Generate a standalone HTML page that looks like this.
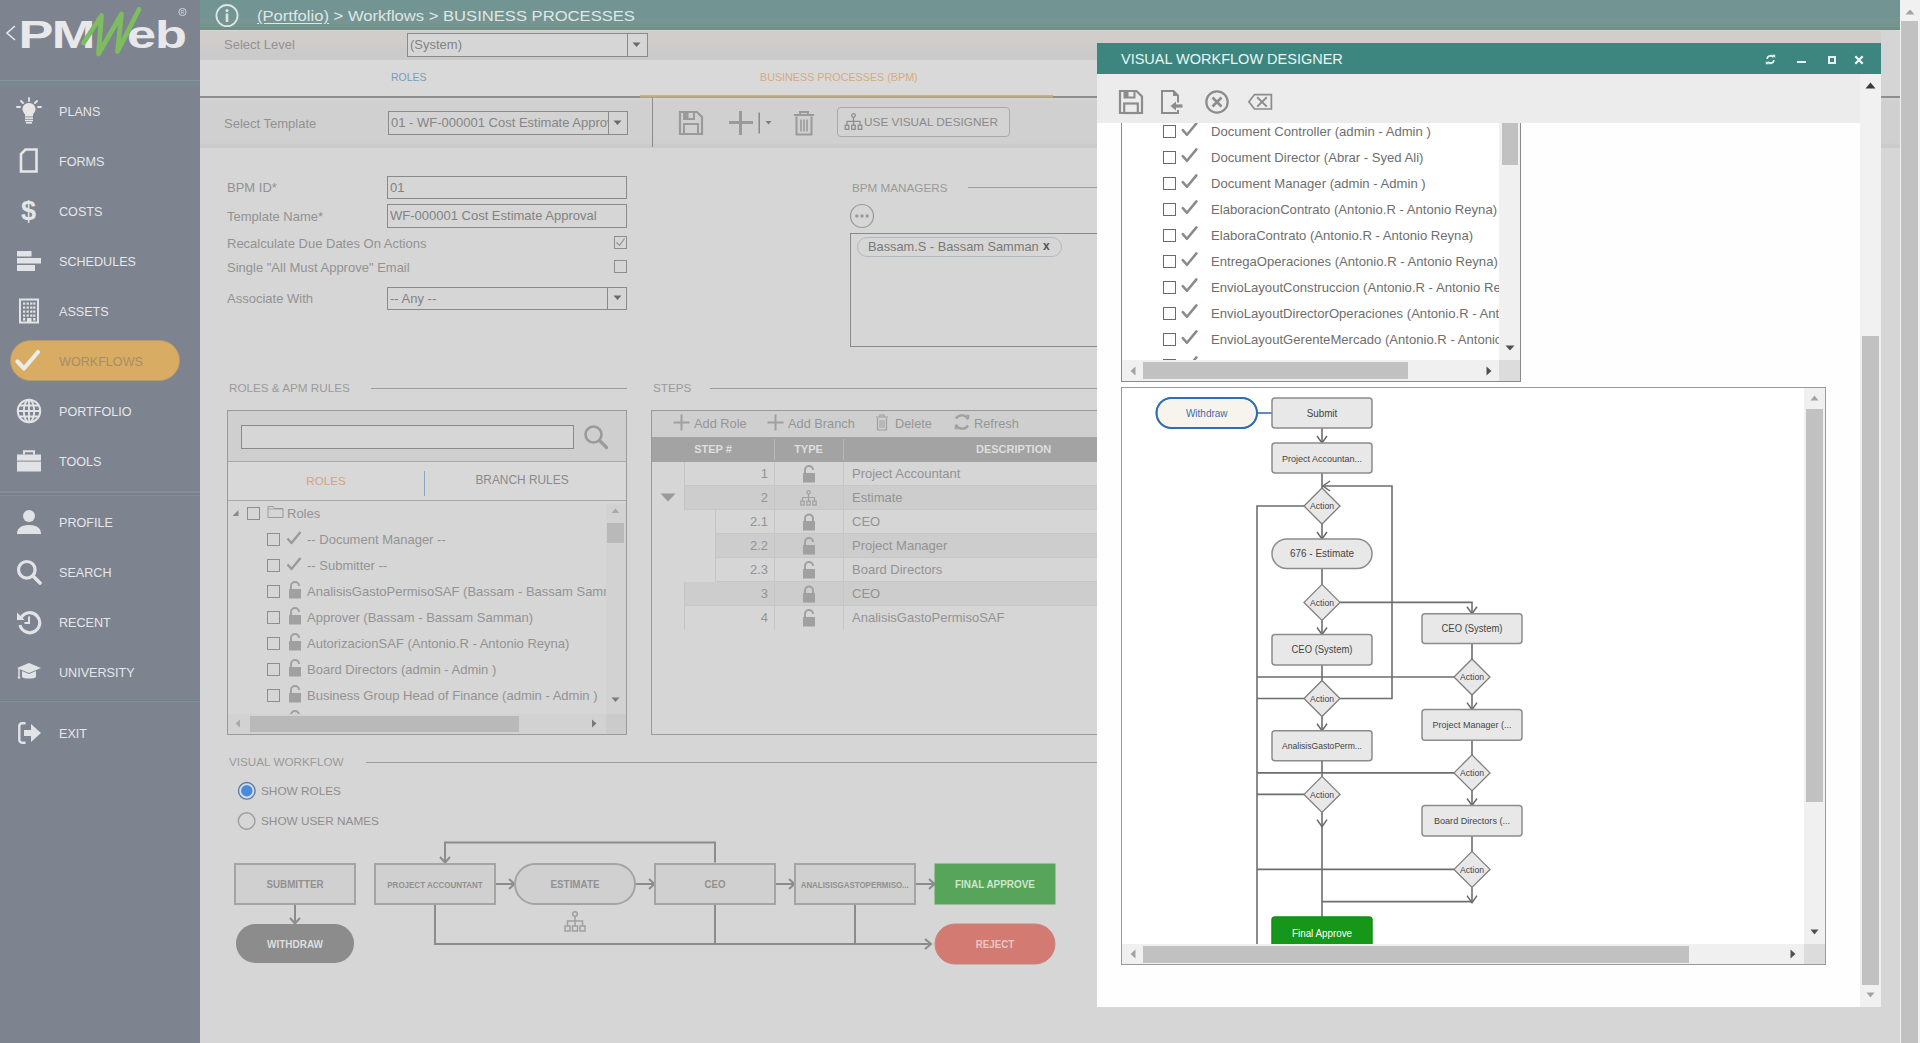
<!DOCTYPE html>
<html><head><meta charset="utf-8">
<style>
*{box-sizing:border-box;margin:0;padding:0}
html,body{width:1920px;height:1043px;overflow:hidden;background:#d6d6d6;font-family:"Liberation Sans",sans-serif;}
.a{position:absolute}
.sb{left:0;top:0;width:200px;height:1043px;background:#7d838f}
.nav{position:absolute;left:59px;font-size:12.6px;color:#e6e7ea;letter-spacing:0;line-height:14px}
.ico{position:absolute}
.hdr{left:200px;top:0;width:1700px;height:29px;background:linear-gradient(#729593 0,#729593 18px,#799491 20px,#789391 24px,#6b968c 25px,#72998f 26.5px,#6f9087 27.5px,#7b8d88 29px)}
.lbl{position:absolute;font-size:13px;color:#929292;line-height:15px;white-space:nowrap}
.inp{position:absolute;border:1px solid #8a8a8a;background:#d6d6d6;font-size:13px;color:#828282;line-height:21px;padding-left:2px;white-space:nowrap;overflow:hidden}
.sec{position:absolute;font-size:11.7px;color:#9a9a9a;line-height:14px;white-space:nowrap}
.hl{position:absolute;height:1px;background:#9c9c9c}
</style></head><body>
<!-- SIDEBAR -->
<div class="a sb">
 <!-- logo -->
 <svg class="ico" style="left:0;top:0" width="200" height="80" viewBox="0 0 200 80">
  <path d="M15 26 L7 33 L15 40" fill="none" stroke="#e8e8ea" stroke-width="1.6"/>
  <text x="0" y="0" transform="translate(18.5 47.5) scale(1.36 1)" font-family="Liberation Sans" font-weight="bold" font-size="38.5" fill="#e8e8ea" letter-spacing="-1.2">PM</text>
  <text x="0" y="0" transform="translate(127 47.5) scale(1.36 1)" font-family="Liberation Sans" font-weight="bold" font-size="38.5" fill="#e8e8ea" letter-spacing="-0.8">eb</text>
  <path d="M83.5 43 L101.5 15.5 L98.5 54 L121.5 14 L117.5 51.5 L139 9.5" fill="none" stroke="#7dbd5f" stroke-width="4.8" stroke-linecap="round" stroke-linejoin="round"/>
  <circle cx="182.5" cy="12" r="3.6" fill="none" stroke="#dcdde0" stroke-width="0.9"/>
  <text x="180.6" y="13.8" font-family="Liberation Sans" font-size="5" fill="#dcdde0">R</text>
 </svg>
 <div class="a" style="left:0;top:80px;width:200px;height:7px;background:linear-gradient(#87939b 0,#87939b 1px,#78868e 1px,#7a8890 4px,#7d8991 7px)"></div>
 <!-- icons -->
 <svg class="ico" style="left:16px;top:97px" width="26" height="27" viewBox="0 0 26 27">
  <g stroke="#e6e6e6" stroke-width="1.8" stroke-linecap="round"><path d="M13 1v3M5 4l2 2M21 4l-2 2M1 10h3M22 10h3"/></g>
  <path d="M13 6c-4 0-6.5 3-6.5 6 0 2.5 1.5 3.8 2.5 5.5v2h8v-2c1-1.7 2.5-3 2.5-5.5 0-3-2.5-6-6.5-6z" fill="#e6e6e6"/>
  <rect x="9" y="20.3" width="8" height="1.6" fill="#e6e6e6"/><rect x="9" y="22.7" width="8" height="1.6" fill="#e6e6e6"/><rect x="10" y="25" width="6" height="1.6" fill="#e6e6e6"/>
 </svg>
 <div class="nav" style="top:104.5px">PLANS</div>
 <svg class="ico" style="left:19px;top:148px" width="20" height="26" viewBox="0 0 20 26">
  <path d="M6.5 1.5H17.5V23.5H2V6z" fill="none" stroke="#e6e6e6" stroke-width="2.6" stroke-linejoin="miter"/>
 </svg>
 <div class="nav" style="top:154.5px">FORMS</div>
 <div class="a" style="left:21px;top:196px;font-size:27px;font-weight:bold;color:#e6e6e6;line-height:30px">$</div>
 <div class="nav" style="top:204.5px">COSTS</div>
 <svg class="ico" style="left:16px;top:250px" width="26" height="23" viewBox="0 0 26 23">
  <rect x="1" y="1" width="14.5" height="5.5" fill="#e2e3e6"/><rect x="1" y="8" width="24" height="5.5" fill="#e2e3e6"/><rect x="1" y="15" width="18" height="6" fill="#e2e3e6"/>
 </svg>
 <div class="nav" style="top:254.5px">SCHEDULES</div>
 <svg class="ico" style="left:18px;top:298px" width="22" height="26" viewBox="0 0 22 26">
  <rect x="2" y="1.5" width="18" height="23" fill="none" stroke="#e2e3e6" stroke-width="2"/>
  <g fill="#e2e3e6"><rect x="5" y="4.5" width="2.2" height="2.2"/><rect x="8.6" y="4.5" width="2.2" height="2.2"/><rect x="12.2" y="4.5" width="2.2" height="2.2"/><rect x="15.2" y="4.5" width="2.2" height="2.2"/>
  <rect x="5" y="8.5" width="2.2" height="2.2"/><rect x="8.6" y="8.5" width="2.2" height="2.2"/><rect x="12.2" y="8.5" width="2.2" height="2.2"/><rect x="15.2" y="8.5" width="2.2" height="2.2"/>
  <rect x="5" y="12.5" width="2.2" height="2.2"/><rect x="8.6" y="12.5" width="2.2" height="2.2"/><rect x="12.2" y="12.5" width="2.2" height="2.2"/><rect x="15.2" y="12.5" width="2.2" height="2.2"/>
  <rect x="5" y="16.5" width="2.2" height="2.2"/><rect x="8.6" y="16.5" width="2.2" height="2.2"/><rect x="12.2" y="16.5" width="2.2" height="2.2"/><rect x="15.2" y="16.5" width="2.2" height="2.2"/>
  <rect x="5" y="20" width="2.2" height="2.6"/><rect x="9" y="20" width="4.5" height="4"/><rect x="15.2" y="20" width="2.2" height="2.6"/></g>
 </svg>
 <div class="nav" style="top:304.5px">ASSETS</div>
 <!-- active workflows pill -->
 <div class="a" style="left:10px;top:340px;width:170px;height:41px;border-radius:21px;background:#d9ac63;border:1px solid #b89a6a"></div>
 <svg class="ico" style="left:15px;top:349px" width="26" height="24" viewBox="0 0 26 24">
  <path d="M2.5 12.5 L9 19.5 L23 3" fill="none" stroke="#e8ecea" stroke-width="4.2" stroke-linecap="round" stroke-linejoin="round"/>
 </svg>
 <div class="nav" style="top:354.5px;color:#a68d66">WORKFLOWS</div>
 <svg class="ico" style="left:16px;top:398px" width="26" height="26" viewBox="0 0 26 26">
  <g fill="none" stroke="#e2e3e6" stroke-width="1.9"><circle cx="13" cy="13" r="11.3"/><ellipse cx="13" cy="13" rx="5.2" ry="11.3"/><path d="M13 1.7v22.6M1.7 13h22.6M3.5 7.5h19M3.5 18.5h19"/></g>
 </svg>
 <div class="nav" style="top:404.5px">PORTFOLIO</div>
 <svg class="ico" style="left:16px;top:450px" width="26" height="23" viewBox="0 0 26 23">
  <path d="M8 4.5V1.3h10v3.2" fill="none" stroke="#e2e3e6" stroke-width="2"/>
  <rect x="1" y="4.5" width="24" height="17" fill="#e2e3e6"/><rect x="1" y="10.5" width="24" height="1.3" fill="#9aa0a8"/>
 </svg>
 <div class="nav" style="top:454.5px">TOOLS</div>
 <div class="a" style="left:0;top:491px;width:200px;height:5px;background:linear-gradient(#878d98 0,#878d98 2px,#7a808b 2px,#7a808b 3.5px,#868c97 3.5px)"></div>
 <svg class="ico" style="left:16px;top:508px" width="26" height="28" viewBox="0 0 26 28">
  <circle cx="13" cy="8" r="6" fill="#e2e3e6"/><path d="M1 26c0-5 3-9 12-9s12 4 12 9z" fill="#e2e3e6"/>
 </svg>
 <div class="nav" style="top:515.5px">PROFILE</div>
 <svg class="ico" style="left:16px;top:559px" width="26" height="26" viewBox="0 0 26 26">
  <circle cx="10.8" cy="10.8" r="8.3" fill="none" stroke="#e2e3e6" stroke-width="3.2"/><path d="M17 17l7 7" stroke="#e2e3e6" stroke-width="3.6" stroke-linecap="round"/>
 </svg>
 <div class="nav" style="top:565.5px">SEARCH</div>
 <svg class="ico" style="left:16px;top:609px" width="26" height="26" viewBox="0 0 26 26">
  <path d="M5.2 8.5A10 10 0 1 1 4 16" fill="none" stroke="#e2e3e6" stroke-width="3.2"/><path d="M1 3.5v7.5h7.5z" fill="#e2e3e6"/><path d="M13 7.5v6.5h-4.5" fill="none" stroke="#e2e3e6" stroke-width="2"/>
 </svg>
 <div class="nav" style="top:615.5px">RECENT</div>
 <svg class="ico" style="left:16px;top:662px" width="26" height="22" viewBox="0 0 26 22">
  <path d="M13 1L25 6 13 11 1 6z" fill="#e2e3e6"/><path d="M6 9v6c2 2 12 2 14 0V9l-7 3z" fill="#e2e3e6"/><path d="M3 6.5v8" stroke="#e2e3e6" stroke-width="1.5"/><circle cx="3" cy="15.5" r="1.3" fill="#e2e3e6"/>
 </svg>
 <div class="nav" style="top:665.5px">UNIVERSITY</div>
 <div class="a" style="left:0;top:697px;width:200px;height:6px;background:linear-gradient(#7b8790 0,#7b8790 3px,#74808a 3px,#74808a 4px,#818f98 4px,#818f98 5px,#7b8790 5px)"></div>
 <svg class="ico" style="left:16px;top:720px" width="26" height="26" viewBox="0 0 26 26">
  <path d="M9.5 3.3H6a2.7 2.7 0 0 0-2.7 2.7v14a2.7 2.7 0 0 0 2.7 2.7h3.5" fill="none" stroke="#e2e3e6" stroke-width="2.4"/><path d="M8 10h7V4l10 9-10 9v-6H8z" fill="#e2e3e6"/>
 </svg>
 <div class="nav" style="top:726.5px">EXIT</div>
</div>
<!-- HEADER -->
<div class="a hdr">
 <svg class="ico" style="left:14px;top:3px" width="26" height="26" viewBox="0 0 26 26">
  <circle cx="13" cy="12.6" r="10.6" fill="none" stroke="#dce6e4" stroke-width="1.8"/>
  <circle cx="13" cy="7.6" r="1.6" fill="#dce6e4"/><rect x="11.7" y="10.5" width="2.6" height="8.5" fill="#dce6e4"/>
 </svg>
 <div class="a" style="left:57px;top:7px;font-size:15.2px;color:#dfe7e5;white-space:nowrap;line-height:18px;transform:scaleX(1.093);transform-origin:0 0"><span style="text-decoration:underline;text-underline-offset:2px">(Portfolio)</span> &gt; Workflows &gt; BUSINESS PROCESSES</div>
</div>
<!-- Select level row -->
<div class="a" style="left:200px;top:29px;width:1700px;height:31px;background:linear-gradient(#7b8b87 0,#7b8b87 1px,#d3d6d6 1px,#d3d6d6 2px,#d1cdca 2px,#d0ccc9 17px,#cbcbcb 21px,#cacaca 31px)"></div>
<div class="lbl" style="left:224px;top:37px">Select Level</div>
<div class="inp" style="left:407px;top:33px;width:241px;height:24px;line-height:22px;background:#d6d6d6">(System)</div>
<div class="a" style="left:627px;top:33px;width:1px;height:24px;background:#8a8a8a"></div>
<svg class="ico" style="left:632px;top:42px" width="9" height="6"><path d="M0.5 0.5h8l-4 4.5z" fill="#6a6a6a"/></svg>
<!-- tabs row -->
<div class="a" style="left:200px;top:60px;width:1700px;height:36px;background:#d9d9d9"></div>
<div class="a" style="left:391px;top:71px;font-size:10.5px;color:#7b9bc0;line-height:12px">ROLES</div>
<div class="a" style="left:760px;top:71px;font-size:10.75px;color:#d7a980;line-height:12px;white-space:nowrap">BUSINESS PROCESSES (BPM)</div>
<div class="a" style="left:200px;top:96px;width:1700px;height:2px;background:#8e8e8e"></div>
<div class="a" style="left:640px;top:94px;width:413px;height:4px;background:linear-gradient(#e0d7c6 0,#e0d7c6 1px,#bfb293 1.5px,#b8aa88 3px,#a6987a 4px)"></div>
<!-- template toolbar row -->
<div class="a" style="left:200px;top:98px;width:1700px;height:50px;background:linear-gradient(#d4d4d4 0,#d0d0d0 4px,#d0d0d0 45px,#cacaca 47px,#cbcbcb 50px)"></div>
<div class="lbl" style="left:224px;top:116px">Select Template</div>
<div class="inp" style="left:388px;top:111px;width:240px;height:24px;line-height:22px;background:#d3d3d3;color:#858585">01 - WF-000001 Cost Estimate Approval</div>
<div class="a" style="left:608px;top:112px;width:19px;height:22px;background:#d3d3d3;border-left:1px solid #8a8a8a"></div>
<svg class="ico" style="left:613px;top:120px" width="9" height="6"><path d="M0.5 0.5h8l-4 4.5z" fill="#6a6a6a"/></svg>
<div class="a" style="left:652px;top:98px;width:1px;height:49px;background:#8e8e8e"></div>
<!-- save icon -->
<svg class="ico" style="left:678px;top:110px" width="26" height="26" viewBox="0 0 26 26">
 <path d="M2 2h17l5 5v17H2z" fill="none" stroke="#9a9a9a" stroke-width="2.2"/>
 <rect x="6" y="2" width="10" height="7" fill="none" stroke="#9a9a9a" stroke-width="2"/><rect x="7" y="3" width="3.5" height="5" fill="#9a9a9a"/>
 <rect x="6" y="14" width="14" height="10" fill="none" stroke="#9a9a9a" stroke-width="2"/>
</svg>
<!-- plus icon -->
<svg class="ico" style="left:728px;top:110px" width="50" height="26" viewBox="0 0 50 26">
 <path d="M12.5 1v24M1 12.5h24" stroke="#9a9a9a" stroke-width="3"/>
 <path d="M31.2 2.5v21" stroke="#767676" stroke-width="1.2"/>
 <path d="M37.5 11h6l-3 3.5z" fill="#7e7e7e"/>
</svg>
<!-- trash icon -->
<svg class="ico" style="left:792px;top:110px" width="24" height="26" viewBox="0 0 24 26">
 <path d="M2 5h20M8 5V2h8v3" fill="none" stroke="#9a9a9a" stroke-width="2"/>
 <path d="M4.5 6.5v18h15v-18" fill="none" stroke="#9a9a9a" stroke-width="2"/>
 <path d="M9 9.5v12M12 9.5v12M15 9.5v12" stroke="#9a9a9a" stroke-width="1.6"/>
</svg>
<!-- USE VISUAL DESIGNER button -->
<div class="a" style="left:837px;top:107px;width:173px;height:30px;border:1px solid #a9a9a9;border-radius:4px;background:#d3d3d3"></div>
<svg class="ico" style="left:844px;top:113px" width="19" height="18" viewBox="0 0 19 18">
 <g fill="none" stroke="#8e8e8e" stroke-width="1.3"><circle cx="9.5" cy="2.5" r="1.8"/><path d="M9.5 4.3v4M3 12V8.3h13V12M9.5 8.3V12"/><rect x="1.2" y="12.3" width="3.6" height="4"/><rect x="7.7" y="12.3" width="3.6" height="4"/><rect x="14.2" y="12.3" width="3.6" height="4"/></g>
</svg>
<div class="a" style="left:864px;top:115px;font-size:11.8px;color:#8a8a8a;line-height:14px;white-space:nowrap">USE VISUAL DESIGNER</div>

<!-- FORM FIELDS -->
<div class="lbl" style="left:227px;top:180px">BPM ID*</div>
<div class="inp" style="left:387px;top:176px;width:240px;height:23px">01</div>
<div class="lbl" style="left:227px;top:209px">Template Name*</div>
<div class="inp" style="left:387px;top:204px;width:240px;height:24px">WF-000001 Cost Estimate Approval</div>
<div class="lbl" style="left:227px;top:236px">Recalculate Due Dates On Actions</div>
<div class="a" style="left:614px;top:236px;width:13px;height:13px;border:1px solid #8e8e8e"></div>
<svg class="ico" style="left:615px;top:237px" width="11" height="11" viewBox="0 0 11 11"><path d="M1.5 5.5l3 3 5-7" fill="none" stroke="#8e8e8e" stroke-width="1.1"/></svg>
<div class="lbl" style="left:227px;top:260px">Single "All Must Approve" Email</div>
<div class="a" style="left:614px;top:260px;width:13px;height:13px;border:1px solid #8e8e8e"></div>
<div class="lbl" style="left:227px;top:291px">Associate With</div>
<div class="inp" style="left:387px;top:287px;width:240px;height:23px">-- Any --</div>
<div class="a" style="left:607px;top:288px;width:1px;height:21px;background:#8a8a8a"></div>
<svg class="ico" style="left:613px;top:295px" width="9" height="6"><path d="M0.5 0.5h8l-4 4.5z" fill="#6a6a6a"/></svg>
<!-- BPM MANAGERS -->
<div class="sec" style="left:852px;top:181px">BPM MANAGERS</div>
<div class="hl" style="left:968px;top:187px;width:130px"></div>
<svg class="ico" style="left:849px;top:203px" width="26" height="26" viewBox="0 0 26 26"><circle cx="13" cy="13" r="11.5" fill="none" stroke="#9a9a9a" stroke-width="1.2"/><circle cx="7.8" cy="13" r="1.7" fill="#9a9a9a"/><circle cx="13" cy="13" r="1.7" fill="#9a9a9a"/><circle cx="18.2" cy="13" r="1.7" fill="#9a9a9a"/></svg>
<div class="a" style="left:850px;top:233px;width:260px;height:114px;border:1px solid #8a8a8a"></div>
<div class="a" style="left:857px;top:237px;width:205px;height:20px;border:1px solid #b4b9c2;border-radius:10px;background:#d6d6d6"></div>
<div class="a" style="left:868px;top:240px;font-size:12.8px;color:#787878;line-height:14px;white-space:nowrap">Bassam.S - Bassam Samman</div>
<div class="a" style="left:1043px;top:239px;font-size:12px;color:#555;line-height:14px;font-weight:bold">x</div>

<!-- ROLES & APM RULES -->
<div class="sec" style="left:229px;top:381px">ROLES &amp; APM RULES</div>
<div class="hl" style="left:371px;top:388px;width:256px"></div>
<div class="a" style="left:227px;top:410px;width:400px;height:325px;border:1px solid #9a9a9a;background:#d6d6d6;overflow:hidden">
 <div class="a" style="left:0;top:0;width:398px;height:51px;background:#cfcfcf;border-bottom:1px solid #a8a8a8"></div>
 <div class="a" style="left:13px;top:14px;width:333px;height:24px;border:1px solid #8a8a8a;background:#d6d6d6"></div>
 <svg class="ico" style="left:355px;top:13px" width="26" height="26" viewBox="0 0 26 26"><circle cx="10.5" cy="10.5" r="8" fill="none" stroke="#9a9a9a" stroke-width="2.6"/><path d="M16.5 16.5l7 7" stroke="#9a9a9a" stroke-width="3.2" stroke-linecap="round"/></svg>
 <div class="a" style="left:0;top:51px;width:398px;height:39px;background:#d8d8d8;border-bottom:1px solid #a8a8a8"></div>
 <div class="a" style="left:48px;top:63px;width:100px;text-align:center;font-size:11.6px;color:#d3a57c;line-height:13px">ROLES</div>
 <div class="a" style="left:196px;top:60px;width:1px;height:25px;background:#8fa6c2"></div>
 <div class="a" style="left:194px;top:63px;width:200px;text-align:center;font-size:11.9px;color:#8a8a8a;line-height:13px;white-space:nowrap">BRANCH RULES</div>
</div>
<!-- tree -->
<div class="a" style="left:228px;top:501px;width:378px;height:213px;overflow:hidden">
<svg class="ico" style="left:4px;top:8px" width="8" height="8"><path d="M6.5 1v6h-6z" fill="#8a8a8a"/></svg>
<div class="a" style="left:19px;top:6px;width:13px;height:13px;border:1px solid #8e8e8e"></div>
<svg class="ico" style="left:39px;top:3px" width="17" height="14" viewBox="0 0 17 14"><path d="M1 2.5h5l1.5 2H16v9H1z" fill="none" stroke="#9a9a9a" stroke-width="1"/><path d="M1 5h15" stroke="#9a9a9a" stroke-width="0.8"/></svg>
<div class="a" style="left:59px;top:5px;font-size:13px;color:#939393;line-height:16px">Roles</div>
<div class="a" style="left:39px;top:32px;width:13px;height:13px;border:1px solid #8e8e8e"></div>
<svg class="ico" style="left:58px;top:30px" width="16" height="14" viewBox="0 0 16 14"><path d="M1.5 7.5l4 4.5 9-11" fill="none" stroke="#9a9a9a" stroke-width="2.4" stroke-linejoin="round"/></svg>
<div class="a" style="left:79px;top:31px;font-size:13px;color:#939393;line-height:16px;white-space:nowrap">-- Document Manager --</div>
<div class="a" style="left:39px;top:58px;width:13px;height:13px;border:1px solid #8e8e8e"></div>
<svg class="ico" style="left:58px;top:56px" width="16" height="14" viewBox="0 0 16 14"><path d="M1.5 7.5l4 4.5 9-11" fill="none" stroke="#9a9a9a" stroke-width="2.4" stroke-linejoin="round"/></svg>
<div class="a" style="left:79px;top:57px;font-size:13px;color:#939393;line-height:16px;white-space:nowrap">-- Submitter --</div>
<div class="a" style="left:39px;top:84px;width:13px;height:13px;border:1px solid #8e8e8e"></div>
<svg class="ico" style="left:60px;top:80px" width="14" height="18" viewBox="0 0 14 18"><path d="M3 8V5a4 4 0 0 1 8 0" fill="none" stroke="#a0a0a0" stroke-width="2"/><rect x="1" y="8" width="12" height="9.5" fill="#a0a0a0"/></svg>
<div class="a" style="left:79px;top:83px;font-size:13px;color:#939393;line-height:16px;white-space:nowrap">AnalisisGastoPermisoSAF (Bassam - Bassam Samman)</div>
<div class="a" style="left:39px;top:110px;width:13px;height:13px;border:1px solid #8e8e8e"></div>
<svg class="ico" style="left:60px;top:106px" width="14" height="18" viewBox="0 0 14 18"><path d="M3 8V5a4 4 0 0 1 8 0" fill="none" stroke="#a0a0a0" stroke-width="2"/><rect x="1" y="8" width="12" height="9.5" fill="#a0a0a0"/></svg>
<div class="a" style="left:79px;top:109px;font-size:13px;color:#939393;line-height:16px;white-space:nowrap">Approver (Bassam - Bassam Samman)</div>
<div class="a" style="left:39px;top:136px;width:13px;height:13px;border:1px solid #8e8e8e"></div>
<svg class="ico" style="left:60px;top:132px" width="14" height="18" viewBox="0 0 14 18"><path d="M3 8V5a4 4 0 0 1 8 0" fill="none" stroke="#a0a0a0" stroke-width="2"/><rect x="1" y="8" width="12" height="9.5" fill="#a0a0a0"/></svg>
<div class="a" style="left:79px;top:135px;font-size:13px;color:#939393;line-height:16px;white-space:nowrap">AutorizacionSAF (Antonio.R - Antonio Reyna)</div>
<div class="a" style="left:39px;top:162px;width:13px;height:13px;border:1px solid #8e8e8e"></div>
<svg class="ico" style="left:60px;top:158px" width="14" height="18" viewBox="0 0 14 18"><path d="M3 8V5a4 4 0 0 1 8 0" fill="none" stroke="#a0a0a0" stroke-width="2"/><rect x="1" y="8" width="12" height="9.5" fill="#a0a0a0"/></svg>
<div class="a" style="left:79px;top:161px;font-size:13px;color:#939393;line-height:16px;white-space:nowrap">Board Directors (admin - Admin )</div>
<div class="a" style="left:39px;top:188px;width:13px;height:13px;border:1px solid #8e8e8e"></div>
<svg class="ico" style="left:60px;top:184px" width="14" height="18" viewBox="0 0 14 18"><path d="M3 8V5a4 4 0 0 1 8 0" fill="none" stroke="#a0a0a0" stroke-width="2"/><rect x="1" y="8" width="12" height="9.5" fill="#a0a0a0"/></svg>
<div class="a" style="left:79px;top:187px;font-size:13px;color:#939393;line-height:16px;white-space:nowrap">Business Group Head of Finance (admin - Admin )</div>

<div class="a" style="left:39px;top:214px;width:13px;height:13px;border:1px solid #8e8e8e"></div>
<svg class="ico" style="left:60px;top:209px" width="14" height="18" viewBox="0 0 14 18"><path d="M3 8V5a4 4 0 0 1 8 0" fill="none" stroke="#a0a0a0" stroke-width="2"/><rect x="1" y="8" width="12" height="9.5" fill="#a0a0a0"/></svg>
</div>
<!-- tree scrollbars -->
<div class="a" style="left:606px;top:503px;width:20px;height:211px;background:#d2d2d2"></div>
<svg class="ico" style="left:611px;top:508px" width="9" height="6"><path d="M0.5 5h8l-4-4.5z" fill="#a9a9a9"/></svg>
<div class="a" style="left:607px;top:523px;width:17px;height:20px;background:#b9b9b9"></div>
<svg class="ico" style="left:611px;top:697px" width="9" height="6"><path d="M0.5 0.5h8l-4 4.5z" fill="#7a7a7a"/></svg>
<div class="a" style="left:228px;top:714px;width:378px;height:20px;background:#d2d2d2"></div>
<div class="a" style="left:606px;top:714px;width:20px;height:20px;background:#cbcbcb"></div>
<div class="a" style="left:250px;top:716px;width:269px;height:16px;background:#b9b9b9"></div>
<svg class="ico" style="left:235px;top:719px" width="6" height="9"><path d="M5 0.5v8l-4.5-4z" fill="#a9a9a9"/></svg>
<svg class="ico" style="left:591px;top:719px" width="6" height="9"><path d="M1 0.5v8l4.5-4z" fill="#7a7a7a"/></svg>

<!-- STEPS -->
<div class="sec" style="left:653px;top:381px">STEPS</div>
<div class="hl" style="left:710px;top:388px;width:390px"></div>
<div class="a" style="left:651px;top:410px;width:460px;height:325px;border:1px solid #9a9a9a;background:#d6d6d6"></div>
<div class="a" style="left:652px;top:411px;width:450px;height:26px;background:#cfcfcf"></div>
<svg class="ico" style="left:673px;top:414px" width="17" height="17"><path d="M8.5 0.5v16M0.5 8.5h16" stroke="#a0a0a0" stroke-width="2"/></svg>
<div class="a" style="left:694px;top:416px;font-size:12.8px;color:#959595;line-height:15px">Add Role</div>
<svg class="ico" style="left:767px;top:414px" width="17" height="17"><path d="M8.5 0.5v16M0.5 8.5h16" stroke="#a0a0a0" stroke-width="2"/></svg>
<div class="a" style="left:788px;top:416px;font-size:12.8px;color:#959595;line-height:15px">Add Branch</div>
<svg class="ico" style="left:875px;top:414px" width="14" height="17" viewBox="0 0 14 17"><path d="M1 3h12M5 3V1h4v2" fill="none" stroke="#a0a0a0" stroke-width="1.2"/><path d="M2.5 4v12h9V4" fill="none" stroke="#a0a0a0" stroke-width="1.2"/><path d="M5 6v8M7 6v8M9 6v8" stroke="#a0a0a0" stroke-width="1"/></svg>
<div class="a" style="left:895px;top:416px;font-size:12.8px;color:#959595;line-height:15px">Delete</div>
<svg class="ico" style="left:953px;top:413px" width="18" height="18" viewBox="0 0 18 18"><path d="M15 6.5A6.8 6.8 0 0 0 3 5.5M3 11.5A6.8 6.8 0 0 0 15 12.5" fill="none" stroke="#a0a0a0" stroke-width="2.4"/><path d="M13 1.5l3.5 0.5-0.5 4.5zM5 16.5l-3.5-0.5 0.5-4.5z" fill="#a0a0a0"/></svg>
<div class="a" style="left:974px;top:416px;font-size:12.8px;color:#959595;line-height:15px">Refresh</div>
<div class="a" style="left:652px;top:437px;width:450px;height:25px;background:#a3a3a3"></div>
<div class="a" style="left:774px;top:439px;width:1px;height:21px;background:#b8b8b8"></div>
<div class="a" style="left:843px;top:439px;width:1px;height:21px;background:#b8b8b8"></div>
<div class="a" style="left:652px;top:443px;width:122px;text-align:center;font-size:11px;font-weight:bold;color:#dedede;line-height:13px">STEP #</div>
<div class="a" style="left:774px;top:443px;width:69px;text-align:center;font-size:11px;font-weight:bold;color:#dedede;line-height:13px">TYPE</div>
<div class="a" style="left:976px;top:443px;font-size:11px;font-weight:bold;color:#dedede;line-height:13px">DESCRIPTION</div>
<div class="a" style="left:684px;top:462px;width:413px;height:24px;background:#d6d6d6;border-left:1px solid #c4c4c4;border-bottom:1px solid #c6c6c6"></div>
<div class="a" style="left:700px;top:466px;width:68px;text-align:right;font-size:13px;color:#939393;line-height:16px">1</div>
<svg class="ico" style="left:802px;top:465px" width="14" height="18" viewBox="0 0 14 18"><path d="M3 8V5a4 4 0 0 1 8 0" fill="none" stroke="#a0a0a0" stroke-width="2"/><rect x="1" y="8" width="12" height="9.5" fill="#a0a0a0"/></svg>
<div class="a" style="left:852px;top:466px;font-size:13px;color:#939393;line-height:16px;white-space:nowrap">Project Accountant</div>
<div class="a" style="left:684px;top:486px;width:413px;height:24px;background:#cdcdcd;border-left:1px solid #c4c4c4;border-bottom:1px solid #c6c6c6"></div>
<div class="a" style="left:700px;top:490px;width:68px;text-align:right;font-size:13px;color:#939393;line-height:16px">2</div>
<svg class="ico" style="left:800px;top:490px" width="17" height="16" viewBox="0 0 17 16"><g fill="none" stroke="#a0a0a0" stroke-width="1.2"><circle cx="8.5" cy="2.3" r="1.7"/><path d="M8.5 4v3.5M2.5 11V7.5h12V11M8.5 7.5V11"/><rect x="0.8" y="11.2" width="3.4" height="3.8"/><rect x="6.8" y="11.2" width="3.4" height="3.8"/><rect x="12.8" y="11.2" width="3.4" height="3.8"/></g></svg>
<div class="a" style="left:852px;top:490px;font-size:13px;color:#939393;line-height:16px;white-space:nowrap">Estimate</div>
<div class="a" style="left:715px;top:510px;width:382px;height:24px;background:#d6d6d6;border-left:1px solid #c4c4c4;border-bottom:1px solid #c6c6c6"></div>
<div class="a" style="left:700px;top:514px;width:68px;text-align:right;font-size:13px;color:#939393;line-height:16px">2.1</div>
<svg class="ico" style="left:802px;top:513px" width="14" height="18" viewBox="0 0 14 18"><path d="M3 8.5V5.5a4 4 0 0 1 8 0v3" fill="none" stroke="#a0a0a0" stroke-width="2"/><rect x="1" y="8" width="12" height="9.5" fill="#a0a0a0"/></svg>
<div class="a" style="left:852px;top:514px;font-size:13px;color:#939393;line-height:16px;white-space:nowrap">CEO</div>
<div class="a" style="left:715px;top:534px;width:382px;height:24px;background:#cdcdcd;border-left:1px solid #c4c4c4;border-bottom:1px solid #c6c6c6"></div>
<div class="a" style="left:700px;top:538px;width:68px;text-align:right;font-size:13px;color:#939393;line-height:16px">2.2</div>
<svg class="ico" style="left:802px;top:537px" width="14" height="18" viewBox="0 0 14 18"><path d="M3 8V5a4 4 0 0 1 8 0" fill="none" stroke="#a0a0a0" stroke-width="2"/><rect x="1" y="8" width="12" height="9.5" fill="#a0a0a0"/></svg>
<div class="a" style="left:852px;top:538px;font-size:13px;color:#939393;line-height:16px;white-space:nowrap">Project Manager</div>
<div class="a" style="left:715px;top:558px;width:382px;height:24px;background:#d6d6d6;border-left:1px solid #c4c4c4;border-bottom:1px solid #c6c6c6"></div>
<div class="a" style="left:700px;top:562px;width:68px;text-align:right;font-size:13px;color:#939393;line-height:16px">2.3</div>
<svg class="ico" style="left:802px;top:561px" width="14" height="18" viewBox="0 0 14 18"><path d="M3 8V5a4 4 0 0 1 8 0" fill="none" stroke="#a0a0a0" stroke-width="2"/><rect x="1" y="8" width="12" height="9.5" fill="#a0a0a0"/></svg>
<div class="a" style="left:852px;top:562px;font-size:13px;color:#939393;line-height:16px;white-space:nowrap">Board Directors</div>
<div class="a" style="left:684px;top:582px;width:413px;height:24px;background:#cdcdcd;border-left:1px solid #c4c4c4;border-bottom:1px solid #c6c6c6"></div>
<div class="a" style="left:700px;top:586px;width:68px;text-align:right;font-size:13px;color:#939393;line-height:16px">3</div>
<svg class="ico" style="left:802px;top:585px" width="14" height="18" viewBox="0 0 14 18"><path d="M3 8.5V5.5a4 4 0 0 1 8 0v3" fill="none" stroke="#a0a0a0" stroke-width="2"/><rect x="1" y="8" width="12" height="9.5" fill="#a0a0a0"/></svg>
<div class="a" style="left:852px;top:586px;font-size:13px;color:#939393;line-height:16px;white-space:nowrap">CEO</div>
<div class="a" style="left:684px;top:606px;width:413px;height:24px;background:#d6d6d6;border-left:1px solid #c4c4c4"></div>
<div class="a" style="left:700px;top:610px;width:68px;text-align:right;font-size:13px;color:#939393;line-height:16px">4</div>
<svg class="ico" style="left:802px;top:609px" width="14" height="18" viewBox="0 0 14 18"><path d="M3 8V5a4 4 0 0 1 8 0" fill="none" stroke="#a0a0a0" stroke-width="2"/><rect x="1" y="8" width="12" height="9.5" fill="#a0a0a0"/></svg>
<div class="a" style="left:852px;top:610px;font-size:13px;color:#939393;line-height:16px;white-space:nowrap">AnalisisGastoPermisoSAF</div>

<div class="a" style="left:774px;top:462px;width:1px;height:168px;background:#c6c6c6"></div>
<div class="a" style="left:843px;top:462px;width:1px;height:168px;background:#c6c6c6"></div>
<svg class="ico" style="left:660px;top:493px" width="16" height="9"><path d="M0.5 0.5h15l-7.5 8z" fill="#9a9a9a"/></svg>

<!-- VISUAL WORKFLOW -->
<div class="sec" style="left:229px;top:755px;font-size:11.7px">VISUAL WORKFLOW</div>
<div class="hl" style="left:366px;top:762px;width:740px"></div>
<svg class="ico" style="left:237px;top:781px" width="20" height="20" viewBox="0 0 20 20"><circle cx="9.8" cy="9.8" r="8.3" fill="#cfdff3" stroke="#667b98" stroke-width="1.4"/><circle cx="9.8" cy="9.8" r="5.7" fill="#4a89dc"/></svg>
<div class="a" style="left:261px;top:784px;font-size:11.8px;color:#8e8e8e;line-height:14px;white-space:nowrap">SHOW ROLES</div>
<svg class="ico" style="left:237px;top:811px" width="20" height="20" viewBox="0 0 20 20"><circle cx="9.6" cy="10" r="8.3" fill="none" stroke="#9c9c9c" stroke-width="1.4"/></svg>
<div class="a" style="left:261px;top:814px;font-size:11.8px;color:#8e8e8e;line-height:14px;white-space:nowrap">SHOW USER NAMES</div>
<svg class="ico" style="left:200px;top:830px" width="900" height="150" viewBox="200 830 900 150">
 <g fill="none" stroke="#8c8c8c" stroke-width="2">
  <path d="M295 904.5v19M290 918l5 5.5 5-5.5"/>
  <path d="M445 862v-19.5h270v20"/><path d="M440 857l5 5.5 5-5.5"/>
  <path d="M435 904.5v39.5h495"/><path d="M715 904.5v39.5M855 904.5v39.5"/><path d="M925 939l6 5-6 5"/>
  <path d="M496 884h18M509 879l5.5 5-5.5 5"/>
  <path d="M636 884h18M649 879l5.5 5-5.5 5"/>
  <path d="M776 884h18M789 879l5.5 5-5.5 5"/>
  <path d="M916 884h18M929 879l5.5 5-5.5 5"/>
 </g>
 <rect x="235" y="864" width="120" height="40" fill="#d0d0d0" stroke="#a4a4a4" stroke-width="2"/>
 <rect x="375" y="864" width="120" height="40" fill="#d0d0d0" stroke="#a4a4a4" stroke-width="2"/>
 <rect x="515" y="864" width="120" height="40" rx="20" fill="#d0d0d0" stroke="#a4a4a4" stroke-width="2"/>
 <rect x="655" y="864" width="120" height="40" fill="#d0d0d0" stroke="#a4a4a4" stroke-width="2"/>
 <rect x="795" y="864" width="120" height="40" fill="#d0d0d0" stroke="#a4a4a4" stroke-width="2"/>
 <rect x="935" y="864" width="120" height="40" fill="#56a55b" stroke="#5aa55e" stroke-width="1"/>
 <rect x="236" y="924" width="118" height="39" rx="19.5" fill="#8c8c8c"/>
 <rect x="935" y="924" width="120" height="40" rx="20" fill="#d37a72" stroke="#c9847e" stroke-width="1"/>
 <g font-family="Liberation Sans" font-weight="bold" text-anchor="middle" fill="#909090">
  <text x="295" y="888" font-size="10.5" textLength="57" lengthAdjust="spacingAndGlyphs">SUBMITTER</text>
  <text x="435" y="887.5" font-size="8.6" textLength="95.4" lengthAdjust="spacingAndGlyphs">PROJECT ACCOUNTANT</text>
  <text x="575" y="888" font-size="10.5" textLength="49" lengthAdjust="spacingAndGlyphs">ESTIMATE</text>
  <text x="715" y="888" font-size="10.5" textLength="21" lengthAdjust="spacingAndGlyphs">CEO</text>
  <text x="854.7" y="887.5" font-size="8.6" textLength="108" lengthAdjust="spacingAndGlyphs">ANALISISGASTOPERMISO...</text>
  <text x="995" y="888" font-size="10.5" fill="#cfe6cd" textLength="80" lengthAdjust="spacingAndGlyphs">FINAL APPROVE</text>
  <text x="295" y="948" font-size="10" fill="#dedede" textLength="56" lengthAdjust="spacingAndGlyphs">WITHDRAW</text>
  <text x="995" y="948" font-size="10.5" fill="#ecc6c2" textLength="38.5" lengthAdjust="spacingAndGlyphs">REJECT</text>
 </g>
 <g fill="none" stroke="#a0a0a0" stroke-width="1.5"><circle cx="575" cy="914" r="2.3"/><path d="M575 916.5v4.5M567.5 926v-5h15v5M575 921v5"/><rect x="565" y="926" width="5" height="5"/><rect x="572.5" y="926" width="5" height="5"/><rect x="580" y="926" width="5" height="5"/></g>
</svg>

<!-- MODAL -->
<div class="a" style="left:1097px;top:43px;width:784px;height:964px;background:#fefefe;overflow:hidden">
 <div class="a" style="left:0;top:0;width:784px;height:31px;background:#3d857f"></div>
 <div class="a" style="left:24px;top:8px;font-size:14.5px;color:#e9f5f3;line-height:17px;white-space:nowrap">VISUAL WORKFLOW DESIGNER</div>
 <svg class="ico" style="left:668px;top:11px" width="11" height="11" viewBox="0 0 11 11"><path d="M2 4.8A3.6 3.6 0 0 1 8.4 3.2M9 6.2A3.6 3.6 0 0 1 2.6 7.8" fill="none" stroke="#e8f2f0" stroke-width="1.8"/><path d="M7 0.8h3.2v3.2zM4 10.2H0.8V7z" fill="#e8f2f0"/></svg>
 <div class="a" style="left:700px;top:18px;width:8.5px;height:2px;background:#e8f2f0"></div>
 <div class="a" style="left:731px;top:13px;width:8px;height:8px;border:2px solid #e8f2f0"></div>
 <svg class="ico" style="left:757px;top:12px" width="10" height="10" viewBox="0 0 10 10"><path d="M1.3 1.3l7.4 7.4M8.7 1.3l-7.4 7.4" stroke="#f0f6f5" stroke-width="2.2"/></svg>
 <!-- list box -->
 <div class="a" style="left:24px;top:80px;width:400px;height:259px;border:1px solid #8a8a8a;border-top:none;background:#fff;overflow:hidden">
  <div class="a" style="left:0;top:0;width:378px;height:237px;overflow:hidden"><div class="a" style="left:41px;top:2px;width:13px;height:13px;border:1px solid #6a6a6a;background:#fff"></div><svg class="ico" style="left:59px;top:-1px" width="17" height="15" viewBox="0 0 17 15"><path d="M1.8 8.2l4.2 4.6 9.4-11.4" fill="none" stroke="#8a8a8a" stroke-width="2.5" stroke-linejoin="round" stroke-linecap="round"/></svg><div class="a" style="left:89px;top:1px;font-size:13.1px;color:#6e6e6e;line-height:16px;white-space:nowrap">Document Controller (admin - Admin )</div>
<div class="a" style="left:41px;top:28px;width:13px;height:13px;border:1px solid #6a6a6a;background:#fff"></div><svg class="ico" style="left:59px;top:25px" width="17" height="15" viewBox="0 0 17 15"><path d="M1.8 8.2l4.2 4.6 9.4-11.4" fill="none" stroke="#8a8a8a" stroke-width="2.5" stroke-linejoin="round" stroke-linecap="round"/></svg><div class="a" style="left:89px;top:27px;font-size:13.1px;color:#6e6e6e;line-height:16px;white-space:nowrap">Document Director (Abrar - Syed Ali)</div>
<div class="a" style="left:41px;top:54px;width:13px;height:13px;border:1px solid #6a6a6a;background:#fff"></div><svg class="ico" style="left:59px;top:51px" width="17" height="15" viewBox="0 0 17 15"><path d="M1.8 8.2l4.2 4.6 9.4-11.4" fill="none" stroke="#8a8a8a" stroke-width="2.5" stroke-linejoin="round" stroke-linecap="round"/></svg><div class="a" style="left:89px;top:53px;font-size:13.1px;color:#6e6e6e;line-height:16px;white-space:nowrap">Document Manager (admin - Admin )</div>
<div class="a" style="left:41px;top:80px;width:13px;height:13px;border:1px solid #6a6a6a;background:#fff"></div><svg class="ico" style="left:59px;top:77px" width="17" height="15" viewBox="0 0 17 15"><path d="M1.8 8.2l4.2 4.6 9.4-11.4" fill="none" stroke="#8a8a8a" stroke-width="2.5" stroke-linejoin="round" stroke-linecap="round"/></svg><div class="a" style="left:89px;top:79px;font-size:13.1px;color:#6e6e6e;line-height:16px;white-space:nowrap">ElaboracionContrato (Antonio.R - Antonio Reyna)</div>
<div class="a" style="left:41px;top:106px;width:13px;height:13px;border:1px solid #6a6a6a;background:#fff"></div><svg class="ico" style="left:59px;top:103px" width="17" height="15" viewBox="0 0 17 15"><path d="M1.8 8.2l4.2 4.6 9.4-11.4" fill="none" stroke="#8a8a8a" stroke-width="2.5" stroke-linejoin="round" stroke-linecap="round"/></svg><div class="a" style="left:89px;top:105px;font-size:13.1px;color:#6e6e6e;line-height:16px;white-space:nowrap">ElaboraContrato (Antonio.R - Antonio Reyna)</div>
<div class="a" style="left:41px;top:132px;width:13px;height:13px;border:1px solid #6a6a6a;background:#fff"></div><svg class="ico" style="left:59px;top:129px" width="17" height="15" viewBox="0 0 17 15"><path d="M1.8 8.2l4.2 4.6 9.4-11.4" fill="none" stroke="#8a8a8a" stroke-width="2.5" stroke-linejoin="round" stroke-linecap="round"/></svg><div class="a" style="left:89px;top:131px;font-size:13.1px;color:#6e6e6e;line-height:16px;white-space:nowrap">EntregaOperaciones (Antonio.R - Antonio Reyna)</div>
<div class="a" style="left:41px;top:158px;width:13px;height:13px;border:1px solid #6a6a6a;background:#fff"></div><svg class="ico" style="left:59px;top:155px" width="17" height="15" viewBox="0 0 17 15"><path d="M1.8 8.2l4.2 4.6 9.4-11.4" fill="none" stroke="#8a8a8a" stroke-width="2.5" stroke-linejoin="round" stroke-linecap="round"/></svg><div class="a" style="left:89px;top:157px;font-size:13.1px;color:#6e6e6e;line-height:16px;white-space:nowrap">EnvioLayoutConstruccion (Antonio.R - Antonio Reyna)</div>
<div class="a" style="left:41px;top:184px;width:13px;height:13px;border:1px solid #6a6a6a;background:#fff"></div><svg class="ico" style="left:59px;top:181px" width="17" height="15" viewBox="0 0 17 15"><path d="M1.8 8.2l4.2 4.6 9.4-11.4" fill="none" stroke="#8a8a8a" stroke-width="2.5" stroke-linejoin="round" stroke-linecap="round"/></svg><div class="a" style="left:89px;top:183px;font-size:13.1px;color:#6e6e6e;line-height:16px;white-space:nowrap">EnvioLayoutDirectorOperaciones (Antonio.R - Antonio Reyna)</div>
<div class="a" style="left:41px;top:210px;width:13px;height:13px;border:1px solid #6a6a6a;background:#fff"></div><svg class="ico" style="left:59px;top:207px" width="17" height="15" viewBox="0 0 17 15"><path d="M1.8 8.2l4.2 4.6 9.4-11.4" fill="none" stroke="#8a8a8a" stroke-width="2.5" stroke-linejoin="round" stroke-linecap="round"/></svg><div class="a" style="left:89px;top:209px;font-size:13.1px;color:#6e6e6e;line-height:16px;white-space:nowrap">EnvioLayoutGerenteMercado (Antonio.R - Antonio Reyna)</div>
<div class="a" style="left:41px;top:236px;width:13px;height:13px;border:1px solid #6a6a6a;background:#fff"></div><svg class="ico" style="left:59px;top:233px" width="17" height="15" viewBox="0 0 17 15"><path d="M1.8 8.2l4.2 4.6 9.4-11.4" fill="none" stroke="#8a8a8a" stroke-width="2.5" stroke-linejoin="round" stroke-linecap="round"/></svg><div class="a" style="left:89px;top:235px;font-size:13.1px;color:#6e6e6e;line-height:16px;white-space:nowrap">EnvioLayoutX (Antonio.R - Antonio Reyna)</div>
</div>
  <div class="a" style="left:377px;top:0;width:21px;height:237px;background:#f0f0f0"></div>
  <div class="a" style="left:380px;top:0;width:16px;height:42px;background:#c1c1c1"></div>
  <svg class="ico" style="left:383px;top:222px" width="10" height="6"><path d="M0.5 0.5h9l-4.5 5z" fill="#505050"/></svg>
  <div class="a" style="left:0;top:237px;width:377px;height:21px;background:#f0f0f0"></div>
  <div class="a" style="left:377px;top:237px;width:21px;height:21px;background:#dcdcdc"></div>
  <div class="a" style="left:21px;top:239px;width:265px;height:17px;background:#c1c1c1"></div>
  <svg class="ico" style="left:8px;top:243px" width="6" height="10"><path d="M5.5 0.5v9l-5-4.5z" fill="#a3a3a3"/></svg>
  <svg class="ico" style="left:364px;top:243px" width="6" height="10"><path d="M0.5 0.5v9l5-4.5z" fill="#505050"/></svg>
 </div>
 <!-- toolbar (sticky) -->
 <div class="a" style="left:0;top:31px;width:763px;height:49px;background:#ececec"></div>
 <div class="a" style="left:763px;top:31px;width:21px;height:933px;background:#f1f1f1"></div>
 <svg class="ico" style="left:768px;top:39px" width="11" height="7"><path d="M0.5 6.5h10l-5-6z" fill="#3c3c3c"/></svg>
 <div class="a" style="left:765px;top:293px;width:17px;height:649px;background:#c1c1c1"></div>
 <svg class="ico" style="left:769px;top:949px" width="9" height="6"><path d="M0.5 0.5h8l-4 5z" fill="#a3a3a3"/></svg>
 <svg class="ico" style="left:21px;top:46px" width="26" height="26" viewBox="0 0 26 26"><path d="M2 2h16.5l5.5 5.5V24H2z" fill="none" stroke="#8c8c8c" stroke-width="2.2"/><path d="M6.5 2v6.5h10V2" fill="none" stroke="#8c8c8c" stroke-width="2"/><rect x="6.5" y="2" width="4" height="6.5" fill="#8c8c8c"/><rect x="6.2" y="14.5" width="13.6" height="9.5" fill="none" stroke="#8c8c8c" stroke-width="2.2"/></svg>
 <svg class="ico" style="left:63px;top:46px" width="24" height="26" viewBox="0 0 24 26"><path d="M18 13.5V6.5L13.5 2H2v22h16v-3" fill="none" stroke="#8c8c8c" stroke-width="2"/><path d="M13 2v5h5z" fill="#8c8c8c"/><path d="M22.5 17h-7" stroke="#8c8c8c" stroke-width="3.2"/><path d="M10.5 17l5.5-4.5v9z" fill="#8c8c8c"/></svg>
 <svg class="ico" style="left:107px;top:46px" width="26" height="26" viewBox="0 0 26 26"><circle cx="13" cy="13" r="10.7" fill="none" stroke="#8c8c8c" stroke-width="2.2"/><path d="M8.5 8.5l9 9M17.5 8.5l-9 9" stroke="#8c8c8c" stroke-width="2.6"/></svg>
 <svg class="ico" style="left:150px;top:49px" width="26" height="20" viewBox="0 0 26 20"><path d="M7.5 2.6H24.4V17H7.5L1.9 9.8z" fill="none" stroke="#8c8c8c" stroke-width="1.7"/><path d="M10.2 5.2l9.6 9.4M19.8 5.2l-9.6 9.4" stroke="#8c8c8c" stroke-width="1.9"/></svg>
 <!-- canvas box -->
 <div class="a" style="left:24px;top:344px;width:705px;height:578px;border:1px solid #9a9a9a;background:#fff"></div>
 <div class="a" style="left:707px;top:345px;width:21px;height:556px;background:#f0f0f0"></div>
 <div class="a" style="left:709px;top:366px;width:17px;height:393px;background:#c1c1c1"></div>
 <svg class="ico" style="left:713px;top:352px" width="9" height="6"><path d="M0.5 5.5h8l-4-5z" fill="#a3a3a3"/></svg>
 <svg class="ico" style="left:713px;top:886px" width="9" height="6"><path d="M0.5 0.5h8l-4 5z" fill="#505050"/></svg>
 <div class="a" style="left:25px;top:901px;width:682px;height:20px;background:#f0f0f0"></div>
 <div class="a" style="left:707px;top:901px;width:21px;height:20px;background:#dcdcdc"></div>
 <div class="a" style="left:46px;top:903px;width:546px;height:17px;background:#c1c1c1"></div>
 <svg class="ico" style="left:33px;top:906px" width="6" height="10"><path d="M5.5 0.5v9l-5-4.5z" fill="#a3a3a3"/></svg>
 <svg class="ico" style="left:693px;top:906px" width="6" height="10"><path d="M0.5 0.5v9l5-4.5z" fill="#505050"/></svg>
</div>
<svg class="ico" style="left:1122px;top:388px;width:682px;height:556px" viewBox="1122 388 682 556"><g fill="none" stroke="#6e6e6e" stroke-width="1.6"><path d="M1322 428v15M1322 473v15M1322 524v15M1322 568.5v16M1322 620.4v14M1322 665v15.5M1322 716.5v14M1322 760.8v15.6M1322 812.4v105"/><path d="M1304 506H1257V950M1340 602.4H1472V613.7M1257 677H1454M1472 643.4v15.6M1304 698.5H1257M1340 698.5H1392V486H1322M1472 695v14.6M1257 772.9H1454M1472 740.3v14.7M1304 794.4H1257M1472 791v14.5M1472 836.1v15.3M1257 869.4H1454M1472 887.4v14.2M1322 901.6H1472"/></g><path d="M1257 413H1272" stroke="#3a6ea8" stroke-width="1.6"/><path d="M1317 436L1322 443L1327 436" fill="none" stroke="#6a6a6a" stroke-width="1.5"/><path d="M1317 532L1322 539L1327 532" fill="none" stroke="#6a6a6a" stroke-width="1.5"/><path d="M1317 627.5L1322 634.5L1327 627.5" fill="none" stroke="#6a6a6a" stroke-width="1.5"/><path d="M1317 723.8L1322 730.8L1327 723.8" fill="none" stroke="#6a6a6a" stroke-width="1.5"/><path d="M1317 819.6L1322 826.6L1327 819.6" fill="none" stroke="#6a6a6a" stroke-width="1.5"/><path d="M1467 606.7L1472 613.7L1477 606.7" fill="none" stroke="#6a6a6a" stroke-width="1.5"/><path d="M1467 702.6L1472 709.6L1477 702.6" fill="none" stroke="#6a6a6a" stroke-width="1.5"/><path d="M1467 798.5L1472 805.5L1477 798.5" fill="none" stroke="#6a6a6a" stroke-width="1.5"/><path d="M1467 895.6L1472 902.6L1477 895.6" fill="none" stroke="#6a6a6a" stroke-width="1.5"/><path d="M1330 481L1323 486L1330 491" fill="none" stroke="#6a6a6a" stroke-width="1.5"/><g font-family="Liberation Sans"><rect x="1156.5" y="398" width="100.5" height="30" rx="15" fill="#f7f4ee" stroke="#2f6db5" stroke-width="1.5"/><text x="1206.75" y="416.5" text-anchor="middle" font-size="10" fill="#3b6db3" textLength="41.6" lengthAdjust="spacingAndGlyphs">Withdraw</text>
<rect x="1156.5" y="398" width="100.5" height="30" rx="15" fill="none" stroke="#2f6db5" stroke-width="2"/><rect x="1272" y="398" width="100" height="30" rx="3" fill="#e8e8e8" stroke="#8c8c8c" stroke-width="1.5"/><text x="1322.0" y="416.5" text-anchor="middle" font-size="10" fill="#444" textLength="30.6" lengthAdjust="spacingAndGlyphs">Submit</text>
<rect x="1272" y="443" width="100" height="30" rx="3" fill="#e8e8e8" stroke="#8c8c8c" stroke-width="1.5"/><text x="1322.0" y="461.5" text-anchor="middle" font-size="9.5" fill="#444" textLength="80" lengthAdjust="spacingAndGlyphs">Project Accountan...</text>
<rect x="1272" y="539" width="100" height="29.5" rx="15" fill="#e8e8e8" stroke="#8c8c8c" stroke-width="1.5"/><text x="1322.0" y="557.25" text-anchor="middle" font-size="10" fill="#444" textLength="64" lengthAdjust="spacingAndGlyphs">676 - Estimate</text>
<rect x="1272" y="634.5" width="100" height="30.5" rx="3" fill="#e8e8e8" stroke="#8c8c8c" stroke-width="1.5"/><text x="1322.0" y="653.25" text-anchor="middle" font-size="10" fill="#444" textLength="61" lengthAdjust="spacingAndGlyphs">CEO (System)</text>
<rect x="1422" y="613.7" width="100" height="29.699999999999932" rx="3" fill="#e8e8e8" stroke="#8c8c8c" stroke-width="1.5"/><text x="1472.0" y="632.05" text-anchor="middle" font-size="10" fill="#444" textLength="61" lengthAdjust="spacingAndGlyphs">CEO (System)</text>
<rect x="1272" y="730.8" width="100" height="30.0" rx="3" fill="#e8e8e8" stroke="#8c8c8c" stroke-width="1.5"/><text x="1322.0" y="749.3" text-anchor="middle" font-size="9.5" fill="#444" textLength="80" lengthAdjust="spacingAndGlyphs">AnalisisGastoPerm...</text>
<rect x="1422" y="709.6" width="100" height="30.699999999999932" rx="3" fill="#e8e8e8" stroke="#8c8c8c" stroke-width="1.5"/><text x="1472.0" y="728.45" text-anchor="middle" font-size="9.5" fill="#444" textLength="79" lengthAdjust="spacingAndGlyphs">Project Manager (...</text>
<rect x="1422" y="805.5" width="100" height="30.600000000000023" rx="3" fill="#e8e8e8" stroke="#8c8c8c" stroke-width="1.5"/><text x="1472.0" y="824.3" text-anchor="middle" font-size="9.5" fill="#444" textLength="76" lengthAdjust="spacingAndGlyphs">Board Directors (...</text>
<rect x="1272" y="917" width="100" height="33" rx="3" fill="#17971a" stroke="#138d16" stroke-width="1.5"/><text x="1322.0" y="937.0" text-anchor="middle" font-size="10" fill="#ffffff" textLength="60" lengthAdjust="spacingAndGlyphs">Final Approve</text>
<path d="M1322 488L1340 506L1322 524L1304 506Z" fill="#e8e8e8" stroke="#7c7c7c" stroke-width="1.3"/><text x="1322" y="509.2" text-anchor="middle" font-size="9" fill="#444" textLength="24" lengthAdjust="spacingAndGlyphs">Action</text>
<path d="M1322 584.4L1340 602.4L1322 620.4L1304 602.4Z" fill="#e8e8e8" stroke="#7c7c7c" stroke-width="1.3"/><text x="1322" y="605.6" text-anchor="middle" font-size="9" fill="#444" textLength="24" lengthAdjust="spacingAndGlyphs">Action</text>
<path d="M1322 680.5L1340 698.5L1322 716.5L1304 698.5Z" fill="#e8e8e8" stroke="#7c7c7c" stroke-width="1.3"/><text x="1322" y="701.7" text-anchor="middle" font-size="9" fill="#444" textLength="24" lengthAdjust="spacingAndGlyphs">Action</text>
<path d="M1322 776.4L1340 794.4L1322 812.4L1304 794.4Z" fill="#e8e8e8" stroke="#7c7c7c" stroke-width="1.3"/><text x="1322" y="797.6" text-anchor="middle" font-size="9" fill="#444" textLength="24" lengthAdjust="spacingAndGlyphs">Action</text>
<path d="M1472 659L1490 677L1472 695L1454 677Z" fill="#e8e8e8" stroke="#7c7c7c" stroke-width="1.3"/><text x="1472" y="680.2" text-anchor="middle" font-size="9" fill="#444" textLength="24" lengthAdjust="spacingAndGlyphs">Action</text>
<path d="M1472 754.9L1490 772.9L1472 790.9L1454 772.9Z" fill="#e8e8e8" stroke="#7c7c7c" stroke-width="1.3"/><text x="1472" y="776.1" text-anchor="middle" font-size="9" fill="#444" textLength="24" lengthAdjust="spacingAndGlyphs">Action</text>
<path d="M1472 851.4L1490 869.4L1472 887.4L1454 869.4Z" fill="#e8e8e8" stroke="#7c7c7c" stroke-width="1.3"/><text x="1472" y="872.6" text-anchor="middle" font-size="9" fill="#444" textLength="24" lengthAdjust="spacingAndGlyphs">Action</text>
</g></svg>

<div class="a" style="left:1881px;top:30px;width:19px;height:66px;background:#d6d5d5"></div>
<!-- PAGE SCROLLBAR -->
<div class="a" style="left:1900px;top:0;width:20px;height:1043px;background:#f1f1f1"></div>
<svg class="ico" style="left:1905px;top:9px" width="10" height="6"><path d="M0.5 5.5h9l-4.5-5z" fill="#a3a3a3"/></svg>
<div class="a" style="left:1901px;top:21px;width:17px;height:1022px;background:#c1c1c1"></div>
</body></html>
